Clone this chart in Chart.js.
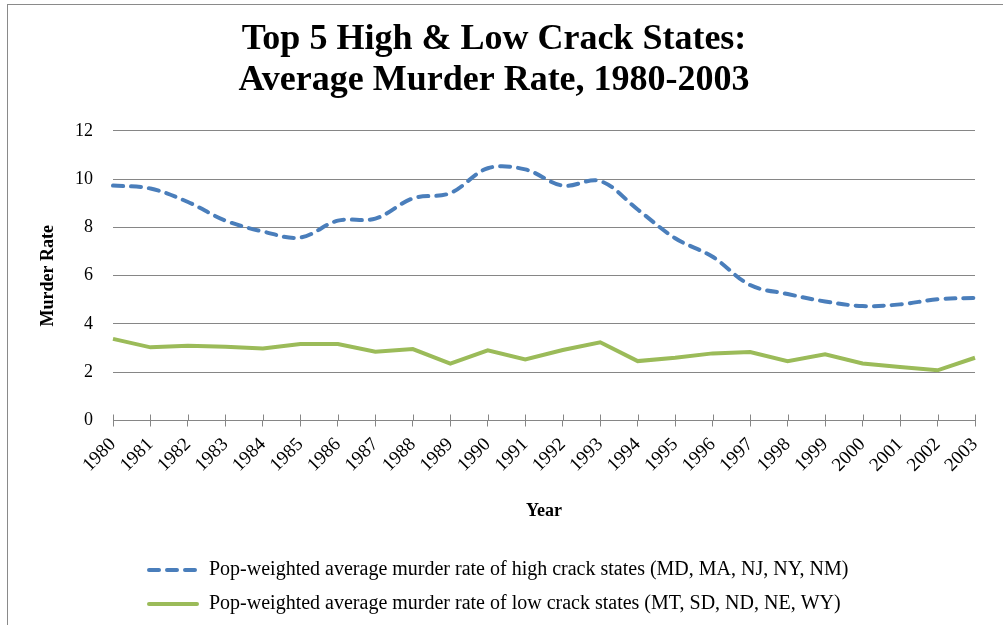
<!DOCTYPE html>
<html>
<head>
<meta charset="utf-8">
<script src="https://cdn.jsdelivr.net/npm/chart.js@4.4.0/dist/chart.umd.min.js"></script>
<style>
  html, body { margin: 0; padding: 0; background: #fff; overflow: hidden; }
  #wrap { position: relative; width: 1003px; height: 625px; }
  #frame { position: absolute; left: 7px; top: 4px; width: 1100px; height: 700px;
           border: 1px solid #8a8a8a; pointer-events: none; }
</style>
</head>
<body>
<div id="wrap">
  <canvas id="chart" width="1003" height="625"></canvas>
  <div id="frame"></div>
</div>
<script>
// chart data
const years = ["1980","1981","1982","1983","1984","1985","1986","1987","1988","1989","1990","1991",
               "1992","1993","1994","1995","1996","1997","1998","1999","2000","2001","2002","2003"];
const highCrack = [9.73, 9.61, 9.05, 8.28, 7.83, 7.58, 8.28, 8.36, 9.20, 9.42, 10.45, 10.40,
                   9.73, 9.92, 8.74, 7.55, 6.78, 5.61, 5.24, 4.93, 4.74, 4.81, 5.02, 5.08];
const lowCrack = [3.38, 3.03, 3.10, 3.05, 2.98, 3.17, 3.17, 2.85, 2.96, 2.36, 2.91, 2.53,
                  2.92, 3.24, 2.46, 2.60, 2.78, 2.84, 2.46, 2.74, 2.36, 2.22, 2.08, 2.60];
const yTicks = [0, 2, 4, 6, 8, 10, 12];
const titleLines = ["Top 5 High & Low Crack States:", "Average Murder Rate, 1980-2003"];
const seriesNames = [
  "Pop-weighted average murder rate of high crack states (MD, MA, NJ, NY, NM)",
  "Pop-weighted average murder rate of low crack states (MT, SD, ND, NE, WY)"
];

const BLUE = "#4A7EBB";
const GREEN = "#9BBB59";
const GRID = "#868686";
const SERIF = "'Liberation Serif', 'Times New Roman', serif";
const LEGEND_LEFT = 133;

// little line samples for the legend
function legendSwatch(color, dash) {
  const c = document.createElement("canvas");
  c.width = 52; c.height = 8;
  const g = c.getContext("2d");
  g.strokeStyle = color;
  g.lineWidth = 4;
  g.lineCap = "round";
  g.setLineDash(dash);
  g.beginPath();
  g.moveTo(2, 4); g.lineTo(50, 4);
  g.stroke();
  return c;
}
const swatches = [legendSwatch(BLUE, [10, 8]), legendSwatch(GREEN, [])];

// Excel style "cross" tick marks on the category axis
const crossTicks = {
  id: "crossTicks",
  afterDraw(chart) {
    const x = chart.scales.x;
    const ctx = chart.ctx;
    ctx.save();
    ctx.strokeStyle = GRID;
    ctx.lineWidth = 1;
    x.ticks.forEach((t, i) => {
      const px = Math.round(x.getPixelForTick(i)) + 0.5;
      ctx.beginPath();
      ctx.moveTo(px, x.top - 6);
      ctx.lineTo(px, x.top);
      ctx.stroke();
    });
    ctx.restore();
  }
};

// legend block sits left-aligned under the plot, not centred on the canvas
const legendShift = {
  id: "legendShift",
  afterLayout(chart) {
    const lg = chart.legend;
    if (!lg) return;
    const w = lg.right - lg.left;
    lg.left = LEGEND_LEFT;
    lg.right = LEGEND_LEFT + w;
  }
};

new Chart(document.getElementById("chart").getContext("2d"), {
  type: "line",
  data: {
    labels: years,
    datasets: [{
      label: seriesNames[0],
      data: highCrack,
      borderColor: BLUE,
      backgroundColor: BLUE,
      borderWidth: 4,
      borderDash: [10, 8],
      borderCapStyle: "round",
      tension: 0.35,
      pointRadius: 0,
      fill: false
    }, {
      label: seriesNames[1],
      data: lowCrack,
      borderColor: GREEN,
      backgroundColor: GREEN,
      borderWidth: 4,
      tension: 0,
      pointRadius: 0,
      fill: false
    }]
  },
  options: {
    responsive: false,
    animation: false,
    layout: { padding: { left: 13, right: 28, top: 0, bottom: 1 } },
    plugins: {
      title: {
        display: true,
        text: titleLines,
        color: "#000",
        font: { family: SERIF, size: 36, weight: "bold", lineHeight: 1.15 },
        padding: { top: 19, bottom: 29 }
      },
      legend: {
        display: true,
        position: "bottom",
        align: "start",
        labels: {
          color: "#000",
          font: { family: SERIF, size: 20 },
          usePointStyle: true,
          pointStyleWidth: 52,
          boxWidth: 52,
          padding: 14,
          generateLabels(chart) {
            const items = Chart.defaults.plugins.legend.labels.generateLabels(chart);
            items.forEach((it, i) => { it.pointStyle = swatches[i]; });
            return items;
          }
        }
      },
      tooltip: { enabled: false }
    },
    scales: {
      x: {
        type: "category",
        offset: false,
        afterFit(scale) { scale.height = 125.5; },
        grid: { display: true, drawOnChartArea: false, drawTicks: true, tickLength: 6, color: GRID },
        border: { display: true, color: GRID, width: 1 },
        ticks: {
          color: "#000",
          font: { family: SERIF, size: 19 },
          minRotation: 45,
          maxRotation: 45,
          autoSkip: false,
          padding: 7
        },
        title: {
          display: true,
          text: "Year",
          color: "#000",
          font: { family: SERIF, size: 18, weight: "bold" },
          padding: { top: 0, bottom: 24 }
        }
      },
      y: {
        min: 0,
        max: 12,
        afterFit(scale) { scale.width = 100; },
        afterBuildTicks(scale) { scale.ticks = yTicks.map(v => ({ value: v })); },
        grid: { color: GRID, drawTicks: false, lineWidth: 1 },
        border: { display: false },
        ticks: {
          color: "#000",
          font: { family: SERIF, size: 18 },
          padding: 20
        },
        title: {
          display: true,
          text: "Murder Rate",
          color: "#000",
          font: { family: SERIF, size: 18, weight: "bold" },
          padding: { top: 25, bottom: 0 }
        }
      }
    }
  },
  plugins: [crossTicks, legendShift]
});
</script>
</body>
</html>
